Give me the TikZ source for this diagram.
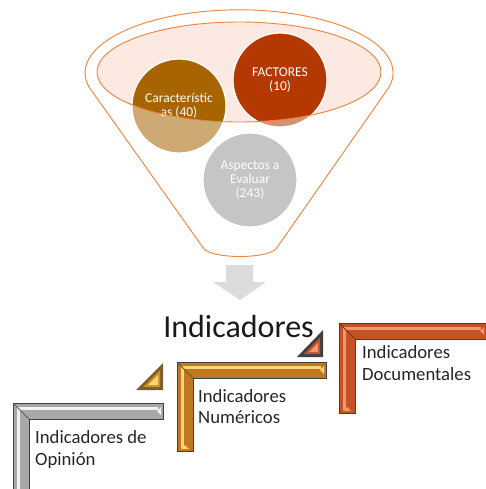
\documentclass[tikz,border=0pt]{standalone}
\usepackage{fontspec}
\setmainfont{Carlito}
\definecolor{pinkfill}{RGB}{252,233,225}
\definecolor{funorange}{RGB}{240,130,60}
\definecolor{caract}{RGB}{168,100,0}
\definecolor{factor}{RGB}{180,56,2}
\definecolor{aspgray}{RGB}{150,150,150}
\definecolor{arrowgray}{RGB}{220,220,220}
\definecolor{docbase}{RGB}{196,82,36}
\definecolor{doclight}{RGB}{242,150,110}
\definecolor{docdark}{RGB}{130,45,12}
\definecolor{numbase}{RGB}{192,120,32}
\definecolor{numlight}{RGB}{250,212,125}
\definecolor{numdark}{RGB}{120,78,15}
\definecolor{opbase}{RGB}{168,168,168}
\definecolor{oplight}{RGB}{242,242,242}
\definecolor{opdark}{RGB}{95,95,95}
\definecolor{edge}{RGB}{64,64,64}
\newcommand{\lframe}[7]{%
  \fill[#5, draw=edge, line width=0.8pt] (#1,#2) -- (#3,#2) -- (#3,{#2+16}) -- ({#1+16},{#2+16}) -- ({#1+16},#4) -- (#1,#4) -- cycle;
  \draw[#6, line width=3pt] ({#1+5},{#4-3}) -- ({#1+5},{#2+5}) -- ({#3-5},{#2+5});
  \draw[#7, line width=0.8pt] (#1,#2) -- ({#1+16},{#2+16});
  \fill[#6] ({#3-2},{#2+4}) -- ({#3-2},{#2+12}) -- ({#3-6},{#2+8}) -- cycle;
  \fill[#6] ({#1+4},{#4-2}) -- ({#1+12},{#4-2}) -- ({#1+8},{#4-6}) -- cycle;
}
\begin{document}
\begin{tikzpicture}[x=1pt,y=-1pt,
  circ/.style={circle, inner sep=0pt, minimum size=94pt, draw=white, line width=1.2pt,
    text=white, align=center, font=\fontsize{13.5}{14}\selectfont},
  lbl/.style={anchor=base west, inner sep=0pt, text=black!85, font=\fontsize{18.7}{21}\selectfont},
  funline/.style={draw=funorange, line width=0.9pt}]
\useasboundingbox (0,0) rectangle (486,489);
\clip (0,0) rectangle (486,489);
\fill[white] (0,0) rectangle (486,489);

% funnel opening
\fill[pinkfill] (239,72) ellipse [x radius=142, y radius=50];
% circles
\node[circ, fill=caract] (car) at (179,106) {Característic\\as (40)};
\node[circ, fill=factor] (fac) at (280,80) {FACTORES\\(10)};
\node[circ, fill=aspgray] (asp) at (250,180) {Aspectos a\\Evaluar\\(243)};
% funnel body (translucent)
\fill[white, fill opacity=0.45, even odd rule]
  (89,87) arc[start angle=167, end angle=373, x radius=154, y radius=63]
  -- (276,249) .. controls (266,259) and (214,259) .. (204,249) -- cycle
  (239,72) ellipse [x radius=142, y radius=50];
\draw[funline]
  (89,87) arc[start angle=167, end angle=373, x radius=154, y radius=63]
  -- (276,249) .. controls (266,259) and (214,259) .. (204,249) -- cycle;
\draw[funline] (239,72) ellipse [x radius=142, y radius=50];

% down arrow
\fill[arrowgray] (226,265) -- (253,265) -- (253,282) -- (266,282) -- (240,300) -- (213,282) -- (226,282) -- cycle;

% title
\node[anchor=base, inner sep=0pt, text=black!90, font=\fontsize{32}{36}\selectfont] (title) at (238.5,337) {Indicadores};

% frames
\lframe{339}{323}{486}{413}{docbase}{doclight}{docdark}
\lframe{177}{362}{326}{451}{numbase}{numlight}{numdark}
\lframe{13}{403}{163}{495}{opbase}{oplight}{opdark}

% step triangles
\fill[edge] (297,357) -- (323,357) -- (323,330) -- cycle;
\fill[docbase] (304,354) -- (320,354) -- (320,337.5) -- cycle;
\fill[doclight] (309,352) -- (318,352) -- (318,343) -- cycle;
\fill[numdark!70!gray] (136,390) -- (163,390) -- (163,363) -- cycle;
\fill[numbase!80!yellow] (143,387) -- (160,387) -- (160,370) -- cycle;
\fill[numlight] (148,385) -- (158,385) -- (158,375) -- cycle;

% labels
\node[lbl] (doc1) at (362,358) {Indicadores};
\node[lbl] (doc2) at (362,380) {Documentales};
\node[lbl] (num1) at (198,402) {Indicadores};
\node[lbl] (num2) at (198,423) {Numéricos};
\node[lbl] (op1) at (35,443) {Indicadores de};
\node[lbl] (op2) at (35,465) {Opinión};
\end{tikzpicture}
\end{document}
